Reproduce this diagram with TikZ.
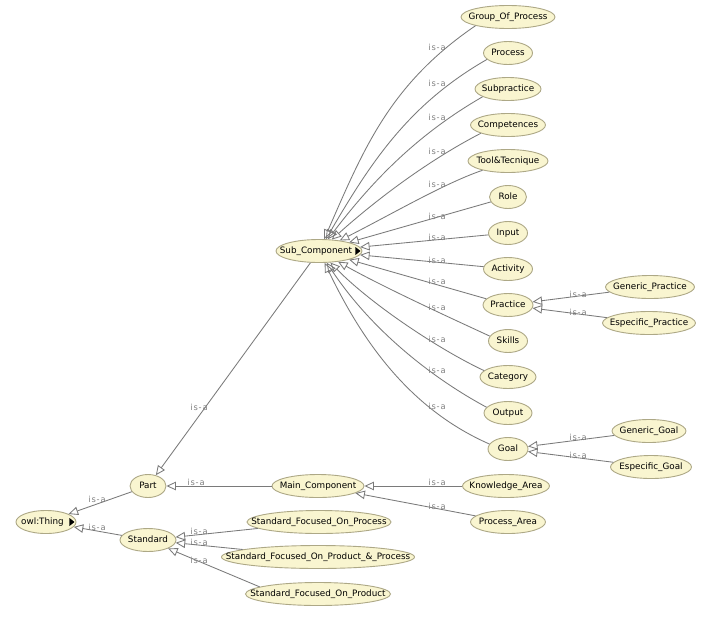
\documentclass[tikz,border=0pt]{standalone}
\usepackage{fontspec}
\setmainfont{DejaVu Sans}
\newfontfamily\lblfont[LetterSpace=10]{DejaVu Sans}
\usetikzlibrary{shapes.geometric,arrows.meta}
\definecolor{nodefill}{HTML}{F9F5D0}
\definecolor{nodeline}{HTML}{ADA886}
\definecolor{edgecol}{HTML}{7A7A7A}
\definecolor{lblcol}{HTML}{808080}
\newcommand\tx[1]{\makebox[0pt][c]{#1}}
\begin{document}
\begin{tikzpicture}[x=1pt,y=-1pt,
  cls/.style={ellipse, draw=nodeline, fill=nodefill, line width=0.9pt, inner sep=0pt,
    minimum height=23pt, text height=6.5pt, text depth=2pt, text=black,
    font=\fontsize{8.8}{10}\selectfont},
  isa/.style={draw=edgecol, line width=0.85pt, -{Triangle[open, length=9.5pt, width=8.5pt]}},
  lbl/.style={text=lblcol, font=\lblfont\fontsize{8.3}{9}\selectfont, inner sep=0pt},
  expander/.style={fill=black}
]
\fill[white] (0,0) rectangle (709,616);
\useasboundingbox (0,0) rectangle (709,616);

% nodes
\node[cls, minimum width=94pt] (gop) at (508,17) {\tx{Group\_Of\_Process}};
\node[cls, minimum width=49pt] (proc) at (508,53) {\tx{Process}};
\node[cls, minimum width=66pt] (subp) at (508,89) {\tx{Subpractice}};
\node[cls, minimum width=75pt] (comp) at (508,125) {\tx{Competences}};
\node[cls, minimum width=80pt] (tool) at (508,161) {\tx{Tool\&Tecnique}};
\node[cls, minimum width=37pt] (role) at (508,197) {\tx{Role}};
\node[cls, minimum width=39pt] (input) at (508,233) {\tx{Input}};
\node[cls, minimum width=49pt] (act) at (508,269) {\tx{Activity}};
\node[cls, minimum width=50pt] (prac) at (508,305) {\tx{Practice}};
\node[cls, minimum width=39pt] (skills) at (508,341) {\tx{Skills}};
\node[cls, minimum width=56pt] (cat) at (508,377) {\tx{Category}};
\node[cls, minimum width=48pt] (out) at (508,413) {\tx{Output}};
\node[cls, minimum width=40pt] (goal) at (508,449) {\tx{Goal}};
\node[cls, minimum width=89pt] (gprac) at (650,287) {\tx{Generic\_Practice}};
\node[cls, minimum width=93pt] (eprac) at (649,323) {\tx{Especific\_Practice}};
\node[cls, minimum width=74pt] (ggoal) at (649,431) {\tx{Generic\_Goal}};
\node[cls, minimum width=81pt] (egoal) at (651,467) {\tx{Especific\_Goal}};
\node[cls, minimum width=86pt] (sub) at (319,251) {\tx{Sub\_Component\hspace{6pt}}};
\node[cls, minimum width=92pt] (main) at (318,486) {\tx{Main\_Component}};
\node[cls, minimum width=87pt] (ka) at (506,486) {\tx{Knowledge\_Area}};
\node[cls, minimum width=75pt] (pa) at (508,522) {\tx{Process\_Area}};
\node[cls, minimum width=36pt] (part) at (148,486) {\tx{Part}};
\node[cls, minimum width=60pt] (thing) at (46,522) {\tx{owl:Thing\hspace{7pt}}};
\node[cls, minimum width=56pt] (std) at (148,540) {\tx{Standard}};
\node[cls, minimum width=144pt] (sfopr) at (319,522) {\tx{Standard\_Focused\_On\_Process}};
\node[cls, minimum width=193pt] (sfopp) at (318,557) {\tx{Standard\_Focused\_On\_Product\_\&\_Process}};
\node[cls, minimum width=145pt] (sfopd) at (318,594) {\tx{Standard\_Focused\_On\_Product}};

% expander triangles
\fill[expander] (sub.east) ++(-7,-4) -- ++(5,4) -- ++(-5,4) -- cycle;
\fill[expander] (thing.east) ++(-7,-4) -- ++(5,4) -- ++(-5,4) -- cycle;

% edges to Sub_Component
\draw[isa] (gop.195) .. controls (390,84) and (364,148) .. (sub);
\draw[isa] (proc.197) .. controls (409,104) and (371,162) .. (sub);
\draw[isa] (subp.197) .. controls (418,134) and (373,180) .. (sub);
\draw[isa] (comp.197) .. controls (429,160) and (377,199) .. (sub);
\draw[isa] (tool.200) .. controls (445,183) and (392,214) .. (sub);
\draw[isa] (role) -- (sub);
\draw[isa] (input) -- (sub);
\draw[isa] (act) -- (sub);
\draw[isa] (prac) -- (sub);
\draw[isa] (skills.165) .. controls (455,320) and (385,288) .. (sub);
\draw[isa] (cat.165) .. controls (440,350) and (372,305) .. (sub);
\draw[isa] (out.165) .. controls (425,374) and (368,325) .. (sub);
\draw[isa] (goal.165) .. controls (412,410) and (364,345) .. (sub);

% other edges
\draw[isa] (gprac) -- (prac);
\draw[isa] (eprac) -- (prac);
\draw[isa] (ggoal) -- (goal);
\draw[isa] (egoal) -- (goal);
\draw[isa] (sub) -- (part);
\draw[isa] (main) -- (part);
\draw[isa] (ka) -- (main);
\draw[isa] (pa) -- (main);
\draw[isa] (part) -- (thing);
\draw[isa] (std) -- (thing);
\draw[isa] (sfopr) -- (std);
\draw[isa] (sfopp) -- (std);
\draw[isa] (sfopd.173) -- (std);

% labels
\foreach \yy [count=\i] in {47,83,117,151,184,216,237,260,281,307,339,370,406}
  \node[lbl] (l\i) at (437,\yy) {is-a};
\node[lbl] (lgp) at (578,294) {is-a};
\node[lbl] (lep) at (578,312) {is-a};
\node[lbl] (lgg) at (578,437) {is-a};
\node[lbl] (leg) at (578,455) {is-a};
\node[lbl] (lsp) at (199,407) {is-a};
\node[lbl] (lmp) at (196,482) {is-a};
\node[lbl] (lkm) at (437,482) {is-a};
\node[lbl] (lpm) at (437,506) {is-a};
\node[lbl] (lpt) at (97,499) {is-a};
\node[lbl] (lst) at (97,527) {is-a};
\node[lbl] (ls1) at (199,531) {is-a};
\node[lbl] (ls2) at (199,542) {is-a};
\node[lbl] (ls3) at (199,560) {is-a};
\end{tikzpicture}
\end{document}
